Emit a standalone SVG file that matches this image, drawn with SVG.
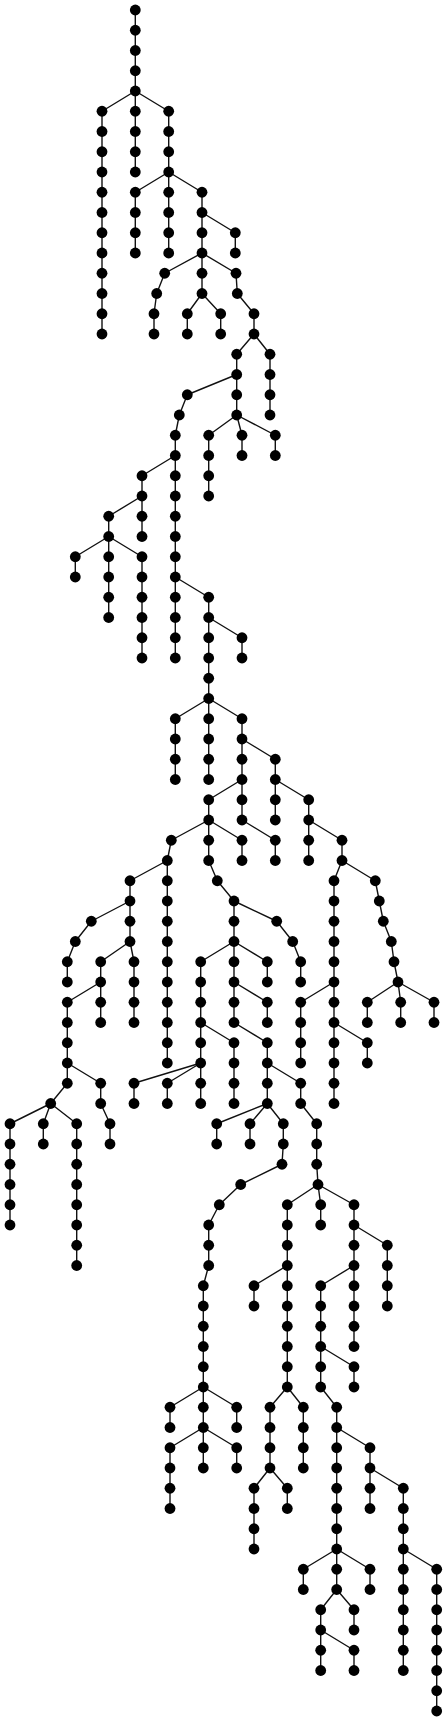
<svg xmlns="http://www.w3.org/2000/svg" width="447" height="1723" viewBox="0 0 447 1723">
<style>
#edges path{stroke:#111;stroke-width:1.4;fill:none;stroke-linecap:round}
#nodes circle{fill:#000}
</style>
<rect width="447" height="1723" fill="#fff"/>
<g id="edges">
<path d="M135.3 10V172"/><path d="M102 111.25V334"/><path d="M168.7 111.25V253"/><path d="M135.3 192.25V253"/><path d="M202 192.25V293.5"/><path d="M235.3 232.75V253"/>
<path d="M154 313.75V334"/><path d="M187.3 313.75V334"/><path d="M220.7 313.75V334"/><path d="M254 313.75V334"/>
<path d="M236.7 354.25V415"/><path d="M270 354.25V415"/><path d="M175.3 435.25V658"/><path d="M208.7 435.25V496"/><path d="M242 435.25V455.5"/><path d="M275.3 435.25V455.5"/>
<path d="M142 475.75V536.5"/><path d="M108.7 516.25V617.5"/><path d="M75.3 556.75V577"/><path d="M142 556.75V658"/><path d="M208.7 597.25V779.5"/><path d="M242 637.75V658"/>
<path d="M175.3 718.75V779.5"/><path d="M242 718.75V820"/><path d="M275.3 759.25V820"/><path d="M208.7 799.75V860.5"/><path d="M308.7 799.75V860.5"/>
<path d="M167.3 860.5V1063"/><path d="M242 840.25V860.5"/><path d="M275.3 840.25V860.5"/><path d="M342 840.25V860.5"/>
<path d="M130 880.75V941.5"/><path d="M234 901V1022.5"/><path d="M334 880.75V1103.5"/>
<path d="M67.3 961.75V982"/><path d="M300.7 961.75V982"/><path d="M100.7 961.75V1022.5"/><path d="M134 961.75V1022.5"/><path d="M200.7 961.75V1103.5"/><path d="M267.3 961.75V982"/>
<path d="M67.3 1002.25V1083.25"/><path d="M267.3 1002.25V1022.5"/><path d="M300.7 1002.25V1063"/><path d="M367.3 1002.25V1022.5"/><path d="M400.7 1002.25V1022.5"/><path d="M434 1002.25V1022.5"/>
<path d="M234 1042.75V1103.5"/><path d="M267.3 1042.75V1103.5"/><path d="M367.3 1042.75V1063"/>
<path d="M100.7 1083.25V1103.5"/><path d="M134 1083.25V1103.5"/><path d="M167.3 1083.25V1103.5"/><path d="M300.7 1083.25V1103.5"/>
<path d="M10 1123.75V1225"/><path d="M43.3 1123.75V1144"/><path d="M76.7 1123.75V1265.5"/><path d="M110 1123.75V1144"/><path d="M216.7 1123.75V1144"/><path d="M250 1123.75V1144"/><path d="M283.3 1123.75V1144"/><path d="M316.7 1123.75V1164.25"/>
<path d="M208.7 1225V1265.5"/><path d="M203.3 1285.75V1468"/><path d="M287.3 1204.75V1387"/><path d="M320.7 1204.75V1225"/><path d="M354 1204.75V1346.5"/><path d="M387.3 1245.25V1306"/>
<path d="M254 1285.75V1306"/><path d="M320.7 1285.75V1387"/><path d="M354 1366.75V1387"/>
<path d="M170 1407.25V1427.5"/><path d="M236.7 1407.25V1427.5"/><path d="M270 1407.25V1468"/><path d="M303.3 1407.25V1468"/><path d="M336.7 1407.25V1589.5"/>
<path d="M170 1447.75V1508.5"/><path d="M236.7 1447.75V1468"/><path d="M370 1447.75V1508.5"/>
<path d="M254 1488.25V1549"/><path d="M287.3 1488.25V1508.5"/><path d="M403.3 1488.25V1670.5"/>
<path d="M303.3 1569.25V1589.5"/><path d="M370 1569.25V1589.5"/><path d="M436.7 1569.25V1711"/>
<path d="M320.7 1609.75V1670.5"/><path d="M354 1609.75V1630"/><path d="M354 1650.25V1670.5"/>
<path d="M135.3 91L102 111.25"/><path d="M135.3 91L168.7 111.25"/>
<path d="M168.7 172L135.3 192.25"/><path d="M168.7 172L202 192.25"/>
<path d="M202 212.5L235.3 232.75"/>
<path d="M202 253L164.7 273.25"/><path d="M202 253L236 273.25"/>
<path d="M164.7 273.25L156.7 293.5"/><path d="M156.7 293.5L154 313.75"/>
<path d="M202 293.5L187.3 313.75"/><path d="M202 293.5L220.7 313.75"/>
<path d="M236 273.25L237.3 293.5"/><path d="M237.3 293.5L254 313.75"/>
<path d="M254 334L236.7 354.25"/><path d="M254 334L270 354.25"/>
<path d="M236.7 374.5L187.3 394.75"/><path d="M187.3 394.75L179.3 415"/><path d="M179.3 415L175.3 435.25"/>
<path d="M236.7 415L208.7 435.25"/><path d="M236.7 415L242 435.25"/><path d="M236.7 415L275.3 435.25"/>
<path d="M175.3 455.5L142 475.75"/><path d="M142 496L108.7 516.25"/>
<path d="M108.7 536.5L75.3 556.75"/><path d="M108.7 536.5L142 556.75"/>
<path d="M175.3 577L208.7 597.25"/><path d="M208.7 617.5L242 637.75"/>
<path d="M208.7 698.5L175.3 718.75"/><path d="M208.7 698.5L242 718.75"/>
<path d="M242 739L275.3 759.25"/><path d="M242 779.5L208.7 799.75"/><path d="M275.3 779.5L308.7 799.75"/>
<path d="M208.7 820L171.3 840.25"/><path d="M208.7 820L242 840.25"/><path d="M242 820L275.3 840.25"/><path d="M308.7 820L342 840.25"/>
<path d="M171.3 840.25L167.3 860.5"/><path d="M167.3 860.5L130 880.75"/><path d="M208.7 860.5L217.3 880.75"/>
<path d="M342 860.5L334 880.75"/><path d="M342 860.5L375.3 880.75"/>
<path d="M217.3 880.75L234 901"/><path d="M375.3 880.75L379.3 901"/>
<path d="M130 901L91.3 921.25"/><path d="M234 901L276.7 921.25"/><path d="M379.3 901L383.3 921.25"/>
<path d="M91.3 921.25L75.3 941.5"/><path d="M276.7 921.25L292.7 941.5"/><path d="M383.3 921.25L391.3 941.5"/>
<path d="M75.3 941.5L67.3 961.75"/><path d="M130 941.5L100.7 961.75"/><path d="M130 941.5L134 961.75"/>
<path d="M234 941.5L200.7 961.75"/><path d="M234 941.5L267.3 961.75"/><path d="M292.7 941.5L300.7 961.75"/>
<path d="M391.3 941.5L394 961.75"/><path d="M394 961.75L398 982"/>
<path d="M100.7 982L67.3 1002.25"/><path d="M234 982L267.3 1002.25"/><path d="M334 982L300.7 1002.25"/>
<path d="M398 982L367.3 1002.25"/><path d="M398 982L400.7 1002.25"/><path d="M398 982L434 1002.25"/>
<path d="M200.7 1022.5L234 1042.75"/><path d="M234 1022.5L267.3 1042.75"/><path d="M334 1022.5L367.3 1042.75"/>
<path d="M67.3 1063L100.7 1083.25"/><path d="M200.7 1063L134 1083.25"/><path d="M200.7 1063L167.3 1083.25"/><path d="M267.3 1063L300.7 1083.25"/>
<path d="M67.3 1083.25L50.7 1103.5"/>
<path d="M50.7 1103.5L10 1123.75"/><path d="M50.7 1103.5L43.3 1123.75"/><path d="M50.7 1103.5L76.7 1123.75"/>
<path d="M100.7 1103.5L110 1123.75"/>
<path d="M267.3 1103.5L216.7 1123.75"/><path d="M267.3 1103.5L250 1123.75"/><path d="M267.3 1103.5L283.3 1123.75"/>
<path d="M300.7 1103.5L316.7 1123.75"/>
<path d="M283.3 1144L282 1164.25"/><path d="M282 1164.25L240.7 1184.5"/><path d="M316.7 1164.25L318 1184.5"/>
<path d="M240.7 1184.5L219.3 1204.75"/>
<path d="M318 1184.5L287.3 1204.75"/><path d="M318 1184.5L320.7 1204.75"/><path d="M318 1184.5L354 1204.75"/>
<path d="M219.3 1204.75L208.7 1225"/><path d="M354 1225L387.3 1245.25"/>
<path d="M208.7 1265.5L203.3 1285.75"/><path d="M287.3 1265.5L254 1285.75"/><path d="M354 1265.5L320.7 1285.75"/>
<path d="M320.7 1346.5L354 1366.75"/>
<path d="M203.3 1387L170 1407.25"/><path d="M203.3 1387L236.7 1407.25"/>
<path d="M287.3 1387L270 1407.25"/><path d="M287.3 1387L303.3 1407.25"/><path d="M320.7 1387L336.7 1407.25"/>
<path d="M203.3 1427.5L170 1447.75"/><path d="M203.3 1427.5L236.7 1447.75"/><path d="M336.7 1427.5L370 1447.75"/>
<path d="M270 1468L254 1488.25"/><path d="M270 1468L287.3 1488.25"/><path d="M370 1468L403.3 1488.25"/>
<path d="M336.7 1549L303.3 1569.25"/><path d="M336.7 1549L370 1569.25"/><path d="M403.3 1549L436.7 1569.25"/>
<path d="M336.7 1589.5L320.7 1609.75"/><path d="M336.7 1589.5L354 1609.75"/>
<path d="M320.7 1630L354 1650.25"/>
</g>
<g id="nodes">
<g id="n0_406"><circle cx="135.3" cy="10" r="5.4"/></g>
<g id="n1_406"><circle cx="135.3" cy="30.25" r="5.4"/></g>
<g id="n2_406"><circle cx="135.3" cy="50.5" r="5.4"/></g>
<g id="n3_406"><circle cx="135.3" cy="70.75" r="5.4"/></g>
<g id="n4_406"><circle cx="135.3" cy="91" r="5.4"/></g>
<g id="n5_306"><circle cx="102" cy="111.25" r="5.4"/></g>
<g id="n5_406"><circle cx="135.3" cy="111.25" r="5.4"/></g>
<g id="n5_506"><circle cx="168.7" cy="111.25" r="5.4"/></g>
<g id="n6_306"><circle cx="102" cy="131.5" r="5.4"/></g>
<g id="n6_406"><circle cx="135.3" cy="131.5" r="5.4"/></g>
<g id="n6_506"><circle cx="168.7" cy="131.5" r="5.4"/></g>
<g id="n7_306"><circle cx="102" cy="151.75" r="5.4"/></g>
<g id="n7_406"><circle cx="135.3" cy="151.75" r="5.4"/></g>
<g id="n7_506"><circle cx="168.7" cy="151.75" r="5.4"/></g>
<g id="n8_306"><circle cx="102" cy="172" r="5.4"/></g>
<g id="n8_406"><circle cx="135.3" cy="172" r="5.4"/></g>
<g id="n8_506"><circle cx="168.7" cy="172" r="5.4"/></g>
<g id="n9_306"><circle cx="102" cy="192.25" r="5.4"/></g>
<g id="n9_406"><circle cx="135.3" cy="192.25" r="5.4"/></g>
<g id="n9_506"><circle cx="168.7" cy="192.25" r="5.4"/></g>
<g id="n9_606"><circle cx="202" cy="192.25" r="5.4"/></g>
<g id="n10_306"><circle cx="102" cy="212.5" r="5.4"/></g>
<g id="n10_406"><circle cx="135.3" cy="212.5" r="5.4"/></g>
<g id="n10_506"><circle cx="168.7" cy="212.5" r="5.4"/></g>
<g id="n10_606"><circle cx="202" cy="212.5" r="5.4"/></g>
<g id="n11_306"><circle cx="102" cy="232.75" r="5.4"/></g>
<g id="n11_406"><circle cx="135.3" cy="232.75" r="5.4"/></g>
<g id="n11_506"><circle cx="168.7" cy="232.75" r="5.4"/></g>
<g id="n11_606"><circle cx="202" cy="232.75" r="5.4"/></g>
<g id="n11_706"><circle cx="235.3" cy="232.75" r="5.4"/></g>
<g id="n12_306"><circle cx="102" cy="253" r="5.4"/></g>
<g id="n12_406"><circle cx="135.3" cy="253" r="5.4"/></g>
<g id="n12_506"><circle cx="168.7" cy="253" r="5.4"/></g>
<g id="n12_606"><circle cx="202" cy="253" r="5.4"/></g>
<g id="n12_706"><circle cx="235.3" cy="253" r="5.4"/></g>
<g id="n13_306"><circle cx="102" cy="273.25" r="5.4"/></g>
<g id="n13_494"><circle cx="164.7" cy="273.25" r="5.4"/></g>
<g id="n13_606"><circle cx="202" cy="273.25" r="5.4"/></g>
<g id="n13_708"><circle cx="236" cy="273.25" r="5.4"/></g>
<g id="n14_306"><circle cx="102" cy="293.5" r="5.4"/></g>
<g id="n14_470"><circle cx="156.7" cy="293.5" r="5.4"/></g>
<g id="n14_606"><circle cx="202" cy="293.5" r="5.4"/></g>
<g id="n14_712"><circle cx="237.3" cy="293.5" r="5.4"/></g>
<g id="n15_306"><circle cx="102" cy="313.75" r="5.4"/></g>
<g id="n15_462"><circle cx="154" cy="313.75" r="5.4"/></g>
<g id="n15_562"><circle cx="187.3" cy="313.75" r="5.4"/></g>
<g id="n15_662"><circle cx="220.7" cy="313.75" r="5.4"/></g>
<g id="n15_762"><circle cx="254" cy="313.75" r="5.4"/></g>
<g id="n16_306"><circle cx="102" cy="334" r="5.4"/></g>
<g id="n16_462"><circle cx="154" cy="334" r="5.4"/></g>
<g id="n16_562"><circle cx="187.3" cy="334" r="5.4"/></g>
<g id="n16_662"><circle cx="220.7" cy="334" r="5.4"/></g>
<g id="n16_762"><circle cx="254" cy="334" r="5.4"/></g>
<g id="n17_710"><circle cx="236.7" cy="354.25" r="5.4"/></g>
<g id="n17_810"><circle cx="270" cy="354.25" r="5.4"/></g>
<g id="n18_710"><circle cx="236.7" cy="374.5" r="5.4"/></g>
<g id="n18_810"><circle cx="270" cy="374.5" r="5.4"/></g>
<g id="n19_562"><circle cx="187.3" cy="394.75" r="5.4"/></g>
<g id="n19_710"><circle cx="236.7" cy="394.75" r="5.4"/></g>
<g id="n19_810"><circle cx="270" cy="394.75" r="5.4"/></g>
<g id="n20_538"><circle cx="179.3" cy="415" r="5.4"/></g>
<g id="n20_710"><circle cx="236.7" cy="415" r="5.4"/></g>
<g id="n20_810"><circle cx="270" cy="415" r="5.4"/></g>
<g id="n21_526"><circle cx="175.3" cy="435.25" r="5.4"/></g>
<g id="n21_626"><circle cx="208.7" cy="435.25" r="5.4"/></g>
<g id="n21_726"><circle cx="242" cy="435.25" r="5.4"/></g>
<g id="n21_826"><circle cx="275.3" cy="435.25" r="5.4"/></g>
<g id="n22_526"><circle cx="175.3" cy="455.5" r="5.4"/></g>
<g id="n22_626"><circle cx="208.7" cy="455.5" r="5.4"/></g>
<g id="n22_726"><circle cx="242" cy="455.5" r="5.4"/></g>
<g id="n22_826"><circle cx="275.3" cy="455.5" r="5.4"/></g>
<g id="n23_426"><circle cx="142" cy="475.75" r="5.4"/></g>
<g id="n23_526"><circle cx="175.3" cy="475.75" r="5.4"/></g>
<g id="n23_626"><circle cx="208.7" cy="475.75" r="5.4"/></g>
<g id="n24_426"><circle cx="142" cy="496" r="5.4"/></g>
<g id="n24_526"><circle cx="175.3" cy="496" r="5.4"/></g>
<g id="n24_626"><circle cx="208.7" cy="496" r="5.4"/></g>
<g id="n25_326"><circle cx="108.7" cy="516.25" r="5.4"/></g>
<g id="n25_426"><circle cx="142" cy="516.25" r="5.4"/></g>
<g id="n25_526"><circle cx="175.3" cy="516.25" r="5.4"/></g>
<g id="n26_326"><circle cx="108.7" cy="536.5" r="5.4"/></g>
<g id="n26_426"><circle cx="142" cy="536.5" r="5.4"/></g>
<g id="n26_526"><circle cx="175.3" cy="536.5" r="5.4"/></g>
<g id="n27_226"><circle cx="75.3" cy="556.75" r="5.4"/></g>
<g id="n27_326"><circle cx="108.7" cy="556.75" r="5.4"/></g>
<g id="n27_426"><circle cx="142" cy="556.75" r="5.4"/></g>
<g id="n27_526"><circle cx="175.3" cy="556.75" r="5.4"/></g>
<g id="n28_226"><circle cx="75.3" cy="577" r="5.4"/></g>
<g id="n28_326"><circle cx="108.7" cy="577" r="5.4"/></g>
<g id="n28_426"><circle cx="142" cy="577" r="5.4"/></g>
<g id="n28_526"><circle cx="175.3" cy="577" r="5.4"/></g>
<g id="n29_326"><circle cx="108.7" cy="597.25" r="5.4"/></g>
<g id="n29_426"><circle cx="142" cy="597.25" r="5.4"/></g>
<g id="n29_526"><circle cx="175.3" cy="597.25" r="5.4"/></g>
<g id="n29_626"><circle cx="208.7" cy="597.25" r="5.4"/></g>
<g id="n30_326"><circle cx="108.7" cy="617.5" r="5.4"/></g>
<g id="n30_426"><circle cx="142" cy="617.5" r="5.4"/></g>
<g id="n30_526"><circle cx="175.3" cy="617.5" r="5.4"/></g>
<g id="n30_626"><circle cx="208.7" cy="617.5" r="5.4"/></g>
<g id="n31_426"><circle cx="142" cy="637.75" r="5.4"/></g>
<g id="n31_526"><circle cx="175.3" cy="637.75" r="5.4"/></g>
<g id="n31_626"><circle cx="208.7" cy="637.75" r="5.4"/></g>
<g id="n31_726"><circle cx="242" cy="637.75" r="5.4"/></g>
<g id="n32_426"><circle cx="142" cy="658" r="5.4"/></g>
<g id="n32_526"><circle cx="175.3" cy="658" r="5.4"/></g>
<g id="n32_626"><circle cx="208.7" cy="658" r="5.4"/></g>
<g id="n32_726"><circle cx="242" cy="658" r="5.4"/></g>
<g id="n33_626"><circle cx="208.7" cy="678.25" r="5.4"/></g>
<g id="n34_626"><circle cx="208.7" cy="698.5" r="5.4"/></g>
<g id="n35_526"><circle cx="175.3" cy="718.75" r="5.4"/></g>
<g id="n35_626"><circle cx="208.7" cy="718.75" r="5.4"/></g>
<g id="n35_726"><circle cx="242" cy="718.75" r="5.4"/></g>
<g id="n36_526"><circle cx="175.3" cy="739" r="5.4"/></g>
<g id="n36_626"><circle cx="208.7" cy="739" r="5.4"/></g>
<g id="n36_726"><circle cx="242" cy="739" r="5.4"/></g>
<g id="n37_526"><circle cx="175.3" cy="759.25" r="5.4"/></g>
<g id="n37_626"><circle cx="208.7" cy="759.25" r="5.4"/></g>
<g id="n37_726"><circle cx="242" cy="759.25" r="5.4"/></g>
<g id="n37_826"><circle cx="275.3" cy="759.25" r="5.4"/></g>
<g id="n38_526"><circle cx="175.3" cy="779.5" r="5.4"/></g>
<g id="n38_626"><circle cx="208.7" cy="779.5" r="5.4"/></g>
<g id="n38_726"><circle cx="242" cy="779.5" r="5.4"/></g>
<g id="n38_826"><circle cx="275.3" cy="779.5" r="5.4"/></g>
<g id="n39_626"><circle cx="208.7" cy="799.75" r="5.4"/></g>
<g id="n39_726"><circle cx="242" cy="799.75" r="5.4"/></g>
<g id="n39_826"><circle cx="275.3" cy="799.75" r="5.4"/></g>
<g id="n39_926"><circle cx="308.7" cy="799.75" r="5.4"/></g>
<g id="n40_626"><circle cx="208.7" cy="820" r="5.4"/></g>
<g id="n40_726"><circle cx="242" cy="820" r="5.4"/></g>
<g id="n40_826"><circle cx="275.3" cy="820" r="5.4"/></g>
<g id="n40_926"><circle cx="308.7" cy="820" r="5.4"/></g>
<g id="n41_514"><circle cx="171.3" cy="840.25" r="5.4"/></g>
<g id="n41_626"><circle cx="208.7" cy="840.25" r="5.4"/></g>
<g id="n41_726"><circle cx="242" cy="840.25" r="5.4"/></g>
<g id="n41_826"><circle cx="275.3" cy="840.25" r="5.4"/></g>
<g id="n41_926"><circle cx="308.7" cy="840.25" r="5.4"/></g>
<g id="n41_1026"><circle cx="342" cy="840.25" r="5.4"/></g>
<g id="n42_502"><circle cx="167.3" cy="860.5" r="5.4"/></g>
<g id="n42_626"><circle cx="208.7" cy="860.5" r="5.4"/></g>
<g id="n42_726"><circle cx="242" cy="860.5" r="5.4"/></g>
<g id="n42_826"><circle cx="275.3" cy="860.5" r="5.4"/></g>
<g id="n42_926"><circle cx="308.7" cy="860.5" r="5.4"/></g>
<g id="n42_1026"><circle cx="342" cy="860.5" r="5.4"/></g>
<g id="n43_390"><circle cx="130" cy="880.75" r="5.4"/></g>
<g id="n43_502"><circle cx="167.3" cy="880.75" r="5.4"/></g>
<g id="n43_652"><circle cx="217.3" cy="880.75" r="5.4"/></g>
<g id="n43_1002"><circle cx="334" cy="880.75" r="5.4"/></g>
<g id="n43_1126"><circle cx="375.3" cy="880.75" r="5.4"/></g>
<g id="n44_390"><circle cx="130" cy="901" r="5.4"/></g>
<g id="n44_502"><circle cx="167.3" cy="901" r="5.4"/></g>
<g id="n44_702"><circle cx="234" cy="901" r="5.4"/></g>
<g id="n44_1002"><circle cx="334" cy="901" r="5.4"/></g>
<g id="n44_1138"><circle cx="379.3" cy="901" r="5.4"/></g>
<g id="n45_274"><circle cx="91.3" cy="921.25" r="5.4"/></g>
<g id="n45_390"><circle cx="130" cy="921.25" r="5.4"/></g>
<g id="n45_502"><circle cx="167.3" cy="921.25" r="5.4"/></g>
<g id="n45_702"><circle cx="234" cy="921.25" r="5.4"/></g>
<g id="n45_830"><circle cx="276.7" cy="921.25" r="5.4"/></g>
<g id="n45_1002"><circle cx="334" cy="921.25" r="5.4"/></g>
<g id="n45_1150"><circle cx="383.3" cy="921.25" r="5.4"/></g>
<g id="n46_226"><circle cx="75.3" cy="941.5" r="5.4"/></g>
<g id="n46_390"><circle cx="130" cy="941.5" r="5.4"/></g>
<g id="n46_502"><circle cx="167.3" cy="941.5" r="5.4"/></g>
<g id="n46_702"><circle cx="234" cy="941.5" r="5.4"/></g>
<g id="n46_878"><circle cx="292.7" cy="941.5" r="5.4"/></g>
<g id="n46_1002"><circle cx="334" cy="941.5" r="5.4"/></g>
<g id="n46_1174"><circle cx="391.3" cy="941.5" r="5.4"/></g>
<g id="n47_202"><circle cx="67.3" cy="961.75" r="5.4"/></g>
<g id="n47_302"><circle cx="100.7" cy="961.75" r="5.4"/></g>
<g id="n47_402"><circle cx="134" cy="961.75" r="5.4"/></g>
<g id="n47_502"><circle cx="167.3" cy="961.75" r="5.4"/></g>
<g id="n47_602"><circle cx="200.7" cy="961.75" r="5.4"/></g>
<g id="n47_702"><circle cx="234" cy="961.75" r="5.4"/></g>
<g id="n47_802"><circle cx="267.3" cy="961.75" r="5.4"/></g>
<g id="n47_902"><circle cx="300.7" cy="961.75" r="5.4"/></g>
<g id="n47_1002"><circle cx="334" cy="961.75" r="5.4"/></g>
<g id="n47_1182"><circle cx="394" cy="961.75" r="5.4"/></g>
<g id="n48_202"><circle cx="67.3" cy="982" r="5.4"/></g>
<g id="n48_302"><circle cx="100.7" cy="982" r="5.4"/></g>
<g id="n48_402"><circle cx="134" cy="982" r="5.4"/></g>
<g id="n48_502"><circle cx="167.3" cy="982" r="5.4"/></g>
<g id="n48_602"><circle cx="200.7" cy="982" r="5.4"/></g>
<g id="n48_702"><circle cx="234" cy="982" r="5.4"/></g>
<g id="n48_802"><circle cx="267.3" cy="982" r="5.4"/></g>
<g id="n48_902"><circle cx="300.7" cy="982" r="5.4"/></g>
<g id="n48_1002"><circle cx="334" cy="982" r="5.4"/></g>
<g id="n48_1194"><circle cx="398" cy="982" r="5.4"/></g>
<g id="n49_202"><circle cx="67.3" cy="1002.25" r="5.4"/></g>
<g id="n49_302"><circle cx="100.7" cy="1002.25" r="5.4"/></g>
<g id="n49_402"><circle cx="134" cy="1002.25" r="5.4"/></g>
<g id="n49_502"><circle cx="167.3" cy="1002.25" r="5.4"/></g>
<g id="n49_602"><circle cx="200.7" cy="1002.25" r="5.4"/></g>
<g id="n49_702"><circle cx="234" cy="1002.25" r="5.4"/></g>
<g id="n49_802"><circle cx="267.3" cy="1002.25" r="5.4"/></g>
<g id="n49_902"><circle cx="300.7" cy="1002.25" r="5.4"/></g>
<g id="n49_1002"><circle cx="334" cy="1002.25" r="5.4"/></g>
<g id="n49_1102"><circle cx="367.3" cy="1002.25" r="5.4"/></g>
<g id="n49_1202"><circle cx="400.7" cy="1002.25" r="5.4"/></g>
<g id="n49_1302"><circle cx="434" cy="1002.25" r="5.4"/></g>
<g id="n50_202"><circle cx="67.3" cy="1022.5" r="5.4"/></g>
<g id="n50_302"><circle cx="100.7" cy="1022.5" r="5.4"/></g>
<g id="n50_402"><circle cx="134" cy="1022.5" r="5.4"/></g>
<g id="n50_502"><circle cx="167.3" cy="1022.5" r="5.4"/></g>
<g id="n50_602"><circle cx="200.7" cy="1022.5" r="5.4"/></g>
<g id="n50_702"><circle cx="234" cy="1022.5" r="5.4"/></g>
<g id="n50_802"><circle cx="267.3" cy="1022.5" r="5.4"/></g>
<g id="n50_902"><circle cx="300.7" cy="1022.5" r="5.4"/></g>
<g id="n50_1002"><circle cx="334" cy="1022.5" r="5.4"/></g>
<g id="n50_1102"><circle cx="367.3" cy="1022.5" r="5.4"/></g>
<g id="n50_1202"><circle cx="400.7" cy="1022.5" r="5.4"/></g>
<g id="n50_1302"><circle cx="434" cy="1022.5" r="5.4"/></g>
<g id="n51_202"><circle cx="67.3" cy="1042.75" r="5.4"/></g>
<g id="n51_502"><circle cx="167.3" cy="1042.75" r="5.4"/></g>
<g id="n51_602"><circle cx="200.7" cy="1042.75" r="5.4"/></g>
<g id="n51_702"><circle cx="234" cy="1042.75" r="5.4"/></g>
<g id="n51_802"><circle cx="267.3" cy="1042.75" r="5.4"/></g>
<g id="n51_902"><circle cx="300.7" cy="1042.75" r="5.4"/></g>
<g id="n51_1002"><circle cx="334" cy="1042.75" r="5.4"/></g>
<g id="n51_1102"><circle cx="367.3" cy="1042.75" r="5.4"/></g>
<g id="n52_202"><circle cx="67.3" cy="1063" r="5.4"/></g>
<g id="n52_502"><circle cx="167.3" cy="1063" r="5.4"/></g>
<g id="n52_602"><circle cx="200.7" cy="1063" r="5.4"/></g>
<g id="n52_702"><circle cx="234" cy="1063" r="5.4"/></g>
<g id="n52_802"><circle cx="267.3" cy="1063" r="5.4"/></g>
<g id="n52_902"><circle cx="300.7" cy="1063" r="5.4"/></g>
<g id="n52_1002"><circle cx="334" cy="1063" r="5.4"/></g>
<g id="n52_1102"><circle cx="367.3" cy="1063" r="5.4"/></g>
<g id="n53_202"><circle cx="67.3" cy="1083.25" r="5.4"/></g>
<g id="n53_302"><circle cx="100.7" cy="1083.25" r="5.4"/></g>
<g id="n53_402"><circle cx="134" cy="1083.25" r="5.4"/></g>
<g id="n53_502"><circle cx="167.3" cy="1083.25" r="5.4"/></g>
<g id="n53_602"><circle cx="200.7" cy="1083.25" r="5.4"/></g>
<g id="n53_702"><circle cx="234" cy="1083.25" r="5.4"/></g>
<g id="n53_802"><circle cx="267.3" cy="1083.25" r="5.4"/></g>
<g id="n53_902"><circle cx="300.7" cy="1083.25" r="5.4"/></g>
<g id="n53_1002"><circle cx="334" cy="1083.25" r="5.4"/></g>
<g id="n54_152"><circle cx="50.7" cy="1103.5" r="5.4"/></g>
<g id="n54_302"><circle cx="100.7" cy="1103.5" r="5.4"/></g>
<g id="n54_402"><circle cx="134" cy="1103.5" r="5.4"/></g>
<g id="n54_502"><circle cx="167.3" cy="1103.5" r="5.4"/></g>
<g id="n54_602"><circle cx="200.7" cy="1103.5" r="5.4"/></g>
<g id="n54_702"><circle cx="234" cy="1103.5" r="5.4"/></g>
<g id="n54_802"><circle cx="267.3" cy="1103.5" r="5.4"/></g>
<g id="n54_902"><circle cx="300.7" cy="1103.5" r="5.4"/></g>
<g id="n54_1002"><circle cx="334" cy="1103.5" r="5.4"/></g>
<g id="n55_30"><circle cx="10" cy="1123.75" r="5.4"/></g>
<g id="n55_130"><circle cx="43.3" cy="1123.75" r="5.4"/></g>
<g id="n55_230"><circle cx="76.7" cy="1123.75" r="5.4"/></g>
<g id="n55_330"><circle cx="110" cy="1123.75" r="5.4"/></g>
<g id="n55_650"><circle cx="216.7" cy="1123.75" r="5.4"/></g>
<g id="n55_750"><circle cx="250" cy="1123.75" r="5.4"/></g>
<g id="n55_850"><circle cx="283.3" cy="1123.75" r="5.4"/></g>
<g id="n55_950"><circle cx="316.7" cy="1123.75" r="5.4"/></g>
<g id="n56_30"><circle cx="10" cy="1144" r="5.4"/></g>
<g id="n56_130"><circle cx="43.3" cy="1144" r="5.4"/></g>
<g id="n56_230"><circle cx="76.7" cy="1144" r="5.4"/></g>
<g id="n56_330"><circle cx="110" cy="1144" r="5.4"/></g>
<g id="n56_650"><circle cx="216.7" cy="1144" r="5.4"/></g>
<g id="n56_750"><circle cx="250" cy="1144" r="5.4"/></g>
<g id="n56_850"><circle cx="283.3" cy="1144" r="5.4"/></g>
<g id="n56_950"><circle cx="316.7" cy="1144" r="5.4"/></g>
<g id="n57_30"><circle cx="10" cy="1164.25" r="5.4"/></g>
<g id="n57_230"><circle cx="76.7" cy="1164.25" r="5.4"/></g>
<g id="n57_846"><circle cx="282" cy="1164.25" r="5.4"/></g>
<g id="n57_950"><circle cx="316.7" cy="1164.25" r="5.4"/></g>
<g id="n58_30"><circle cx="10" cy="1184.5" r="5.4"/></g>
<g id="n58_230"><circle cx="76.7" cy="1184.5" r="5.4"/></g>
<g id="n58_722"><circle cx="240.7" cy="1184.5" r="5.4"/></g>
<g id="n58_954"><circle cx="318" cy="1184.5" r="5.4"/></g>
<g id="n59_30"><circle cx="10" cy="1204.75" r="5.4"/></g>
<g id="n59_230"><circle cx="76.7" cy="1204.75" r="5.4"/></g>
<g id="n59_658"><circle cx="219.3" cy="1204.75" r="5.4"/></g>
<g id="n59_862"><circle cx="287.3" cy="1204.75" r="5.4"/></g>
<g id="n59_962"><circle cx="320.7" cy="1204.75" r="5.4"/></g>
<g id="n59_1062"><circle cx="354" cy="1204.75" r="5.4"/></g>
<g id="n60_30"><circle cx="10" cy="1225" r="5.4"/></g>
<g id="n60_230"><circle cx="76.7" cy="1225" r="5.4"/></g>
<g id="n60_626"><circle cx="208.7" cy="1225" r="5.4"/></g>
<g id="n60_862"><circle cx="287.3" cy="1225" r="5.4"/></g>
<g id="n60_962"><circle cx="320.7" cy="1225" r="5.4"/></g>
<g id="n60_1062"><circle cx="354" cy="1225" r="5.4"/></g>
<g id="n61_230"><circle cx="76.7" cy="1245.25" r="5.4"/></g>
<g id="n61_626"><circle cx="208.7" cy="1245.25" r="5.4"/></g>
<g id="n61_862"><circle cx="287.3" cy="1245.25" r="5.4"/></g>
<g id="n61_1062"><circle cx="354" cy="1245.25" r="5.4"/></g>
<g id="n61_1162"><circle cx="387.3" cy="1245.25" r="5.4"/></g>
<g id="n62_230"><circle cx="76.7" cy="1265.5" r="5.4"/></g>
<g id="n62_626"><circle cx="208.7" cy="1265.5" r="5.4"/></g>
<g id="n62_862"><circle cx="287.3" cy="1265.5" r="5.4"/></g>
<g id="n62_1062"><circle cx="354" cy="1265.5" r="5.4"/></g>
<g id="n62_1162"><circle cx="387.3" cy="1265.5" r="5.4"/></g>
<g id="n63_610"><circle cx="203.3" cy="1285.75" r="5.4"/></g>
<g id="n63_762"><circle cx="254" cy="1285.75" r="5.4"/></g>
<g id="n63_862"><circle cx="287.3" cy="1285.75" r="5.4"/></g>
<g id="n63_962"><circle cx="320.7" cy="1285.75" r="5.4"/></g>
<g id="n63_1062"><circle cx="354" cy="1285.75" r="5.4"/></g>
<g id="n63_1162"><circle cx="387.3" cy="1285.75" r="5.4"/></g>
<g id="n64_610"><circle cx="203.3" cy="1306" r="5.4"/></g>
<g id="n64_762"><circle cx="254" cy="1306" r="5.4"/></g>
<g id="n64_862"><circle cx="287.3" cy="1306" r="5.4"/></g>
<g id="n64_962"><circle cx="320.7" cy="1306" r="5.4"/></g>
<g id="n64_1062"><circle cx="354" cy="1306" r="5.4"/></g>
<g id="n64_1162"><circle cx="387.3" cy="1306" r="5.4"/></g>
<g id="n65_610"><circle cx="203.3" cy="1326.25" r="5.4"/></g>
<g id="n65_862"><circle cx="287.3" cy="1326.25" r="5.4"/></g>
<g id="n65_962"><circle cx="320.7" cy="1326.25" r="5.4"/></g>
<g id="n65_1062"><circle cx="354" cy="1326.25" r="5.4"/></g>
<g id="n66_610"><circle cx="203.3" cy="1346.5" r="5.4"/></g>
<g id="n66_862"><circle cx="287.3" cy="1346.5" r="5.4"/></g>
<g id="n66_962"><circle cx="320.7" cy="1346.5" r="5.4"/></g>
<g id="n66_1062"><circle cx="354" cy="1346.5" r="5.4"/></g>
<g id="n67_610"><circle cx="203.3" cy="1366.75" r="5.4"/></g>
<g id="n67_862"><circle cx="287.3" cy="1366.75" r="5.4"/></g>
<g id="n67_962"><circle cx="320.7" cy="1366.75" r="5.4"/></g>
<g id="n67_1062"><circle cx="354" cy="1366.75" r="5.4"/></g>
<g id="n68_610"><circle cx="203.3" cy="1387" r="5.4"/></g>
<g id="n68_862"><circle cx="287.3" cy="1387" r="5.4"/></g>
<g id="n68_962"><circle cx="320.7" cy="1387" r="5.4"/></g>
<g id="n68_1062"><circle cx="354" cy="1387" r="5.4"/></g>
<g id="n69_510"><circle cx="170" cy="1407.25" r="5.4"/></g>
<g id="n69_610"><circle cx="203.3" cy="1407.25" r="5.4"/></g>
<g id="n69_710"><circle cx="236.7" cy="1407.25" r="5.4"/></g>
<g id="n69_810"><circle cx="270" cy="1407.25" r="5.4"/></g>
<g id="n69_910"><circle cx="303.3" cy="1407.25" r="5.4"/></g>
<g id="n69_1010"><circle cx="336.7" cy="1407.25" r="5.4"/></g>
<g id="n70_510"><circle cx="170" cy="1427.5" r="5.4"/></g>
<g id="n70_610"><circle cx="203.3" cy="1427.5" r="5.4"/></g>
<g id="n70_710"><circle cx="236.7" cy="1427.5" r="5.4"/></g>
<g id="n70_810"><circle cx="270" cy="1427.5" r="5.4"/></g>
<g id="n70_910"><circle cx="303.3" cy="1427.5" r="5.4"/></g>
<g id="n70_1010"><circle cx="336.7" cy="1427.5" r="5.4"/></g>
<g id="n71_510"><circle cx="170" cy="1447.75" r="5.4"/></g>
<g id="n71_610"><circle cx="203.3" cy="1447.75" r="5.4"/></g>
<g id="n71_710"><circle cx="236.7" cy="1447.75" r="5.4"/></g>
<g id="n71_810"><circle cx="270" cy="1447.75" r="5.4"/></g>
<g id="n71_910"><circle cx="303.3" cy="1447.75" r="5.4"/></g>
<g id="n71_1010"><circle cx="336.7" cy="1447.75" r="5.4"/></g>
<g id="n71_1110"><circle cx="370" cy="1447.75" r="5.4"/></g>
<g id="n72_510"><circle cx="170" cy="1468" r="5.4"/></g>
<g id="n72_610"><circle cx="203.3" cy="1468" r="5.4"/></g>
<g id="n72_710"><circle cx="236.7" cy="1468" r="5.4"/></g>
<g id="n72_810"><circle cx="270" cy="1468" r="5.4"/></g>
<g id="n72_910"><circle cx="303.3" cy="1468" r="5.4"/></g>
<g id="n72_1010"><circle cx="336.7" cy="1468" r="5.4"/></g>
<g id="n72_1110"><circle cx="370" cy="1468" r="5.4"/></g>
<g id="n73_510"><circle cx="170" cy="1488.25" r="5.4"/></g>
<g id="n73_762"><circle cx="254" cy="1488.25" r="5.4"/></g>
<g id="n73_862"><circle cx="287.3" cy="1488.25" r="5.4"/></g>
<g id="n73_1010"><circle cx="336.7" cy="1488.25" r="5.4"/></g>
<g id="n73_1110"><circle cx="370" cy="1488.25" r="5.4"/></g>
<g id="n73_1210"><circle cx="403.3" cy="1488.25" r="5.4"/></g>
<g id="n74_510"><circle cx="170" cy="1508.5" r="5.4"/></g>
<g id="n74_762"><circle cx="254" cy="1508.5" r="5.4"/></g>
<g id="n74_862"><circle cx="287.3" cy="1508.5" r="5.4"/></g>
<g id="n74_1010"><circle cx="336.7" cy="1508.5" r="5.4"/></g>
<g id="n74_1110"><circle cx="370" cy="1508.5" r="5.4"/></g>
<g id="n74_1210"><circle cx="403.3" cy="1508.5" r="5.4"/></g>
<g id="n75_762"><circle cx="254" cy="1528.75" r="5.4"/></g>
<g id="n75_1010"><circle cx="336.7" cy="1528.75" r="5.4"/></g>
<g id="n75_1210"><circle cx="403.3" cy="1528.75" r="5.4"/></g>
<g id="n76_762"><circle cx="254" cy="1549" r="5.4"/></g>
<g id="n76_1010"><circle cx="336.7" cy="1549" r="5.4"/></g>
<g id="n76_1210"><circle cx="403.3" cy="1549" r="5.4"/></g>
<g id="n77_910"><circle cx="303.3" cy="1569.25" r="5.4"/></g>
<g id="n77_1010"><circle cx="336.7" cy="1569.25" r="5.4"/></g>
<g id="n77_1110"><circle cx="370" cy="1569.25" r="5.4"/></g>
<g id="n77_1210"><circle cx="403.3" cy="1569.25" r="5.4"/></g>
<g id="n77_1310"><circle cx="436.7" cy="1569.25" r="5.4"/></g>
<g id="n78_910"><circle cx="303.3" cy="1589.5" r="5.4"/></g>
<g id="n78_1010"><circle cx="336.7" cy="1589.5" r="5.4"/></g>
<g id="n78_1110"><circle cx="370" cy="1589.5" r="5.4"/></g>
<g id="n78_1210"><circle cx="403.3" cy="1589.5" r="5.4"/></g>
<g id="n78_1310"><circle cx="436.7" cy="1589.5" r="5.4"/></g>
<g id="n79_962"><circle cx="320.7" cy="1609.75" r="5.4"/></g>
<g id="n79_1062"><circle cx="354" cy="1609.75" r="5.4"/></g>
<g id="n79_1210"><circle cx="403.3" cy="1609.75" r="5.4"/></g>
<g id="n79_1310"><circle cx="436.7" cy="1609.75" r="5.4"/></g>
<g id="n80_962"><circle cx="320.7" cy="1630" r="5.4"/></g>
<g id="n80_1062"><circle cx="354" cy="1630" r="5.4"/></g>
<g id="n80_1210"><circle cx="403.3" cy="1630" r="5.4"/></g>
<g id="n80_1310"><circle cx="436.7" cy="1630" r="5.4"/></g>
<g id="n81_962"><circle cx="320.7" cy="1650.25" r="5.4"/></g>
<g id="n81_1062"><circle cx="354" cy="1650.25" r="5.4"/></g>
<g id="n81_1210"><circle cx="403.3" cy="1650.25" r="5.4"/></g>
<g id="n81_1310"><circle cx="436.7" cy="1650.25" r="5.4"/></g>
<g id="n82_962"><circle cx="320.7" cy="1670.5" r="5.4"/></g>
<g id="n82_1062"><circle cx="354" cy="1670.5" r="5.4"/></g>
<g id="n82_1210"><circle cx="403.3" cy="1670.5" r="5.4"/></g>
<g id="n82_1310"><circle cx="436.7" cy="1670.5" r="5.4"/></g>
<g id="n83_1310"><circle cx="436.7" cy="1690.75" r="5.4"/></g>
<g id="n84_1310"><circle cx="436.7" cy="1711" r="5.4"/></g>
</g>
</svg>
